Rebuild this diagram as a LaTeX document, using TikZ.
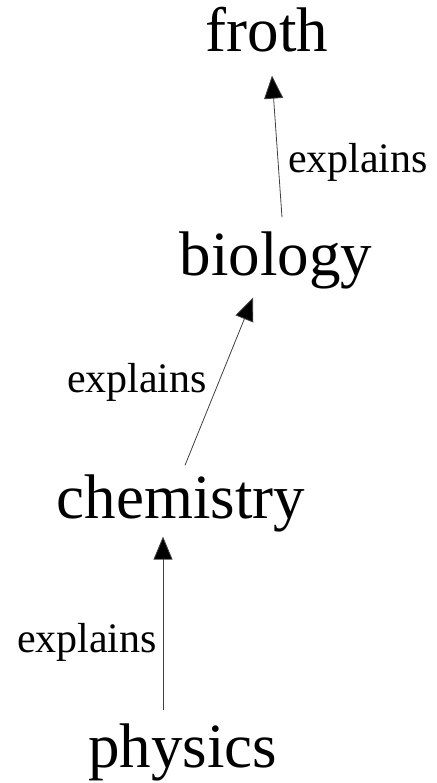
\documentclass[tikz,border=0pt]{standalone}
\usepackage{fontspec}
\setmainfont{Liberation Serif}
\usetikzlibrary{arrows.meta}
\begin{document}
\begin{tikzpicture}[x=1pt,y=-1pt,
  term/.style={inner sep=0pt, outer sep=0pt, anchor=base, font=\fontsize{63}{70}\selectfont},
  lbl/.style={inner sep=0pt, outer sep=0pt, anchor=base west, font=\fontsize{42}{48}\selectfont},
  expl/.style={draw=black!75, line width=0.8pt, -{Triangle[length=23pt,width=19pt,fill=black]}}]
\useasboundingbox (0,0) rectangle (436,783);
\node[term] (froth) at (267,52) {froth};
\node[term] (biology) at (276,275) {biology};
\node[term] (chemistry) at (181,518) {chemistry};
\node[term] (physics) at (182.5,767) {physics};
\node[lbl] (l1) at (288,173) {explains};
\node[lbl] (l2) at (67,392) {explains};
\node[lbl] (l3) at (17,652) {explains};
\draw[expl] ([shift={(6,-14)}]biology.north) -- ([shift={(5,23)}]froth.south);
\draw[expl] ([shift={(4,-9)}]chemistry.north) -- ([shift={(-23,9)}]biology.south);
\draw[expl] ([shift={(-19.5,-13)}]physics.north) -- ([shift={(-18,5)}]chemistry.south);
\end{tikzpicture}
\end{document}
